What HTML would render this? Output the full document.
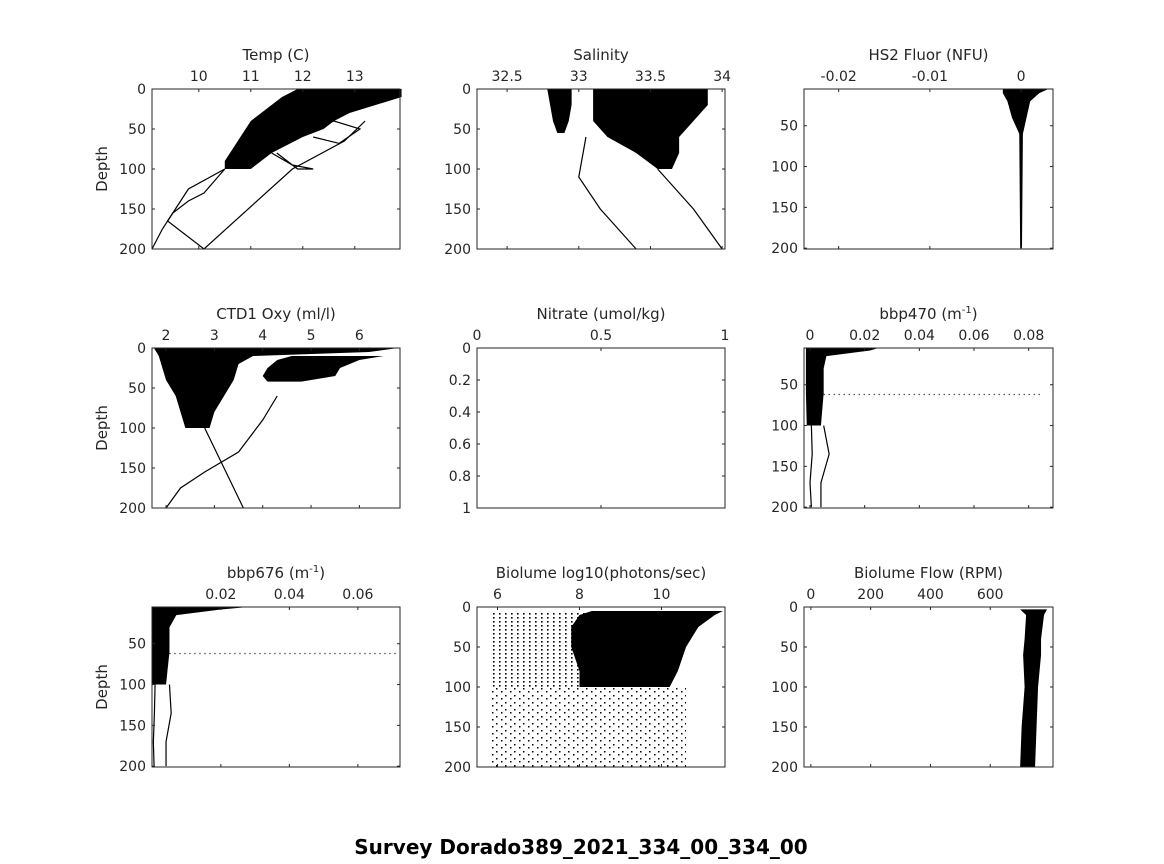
<!DOCTYPE html>
<html><head><meta charset="utf-8">
<style>
body{margin:0;background:#fff;}
svg{display:block;font-family:"DejaVu Sans","Liberation Sans",sans-serif;}
</style></head>
<body>
<svg id="fig" width="1164" height="864" viewBox="0 0 1164 864">
<defs>
<pattern id="sparse" width="9" height="7" patternUnits="userSpaceOnUse"><rect x="1" y="2" width="1.5" height="1.5" fill="#000"/><rect x="6" y="5" width="1.5" height="1.5" fill="#000"/></pattern>
<pattern id="mid" width="6" height="4" patternUnits="userSpaceOnUse"><rect x="1" y="1" width="1.6" height="1.6" fill="#000"/></pattern>
</defs>
<text x="581" y="854" text-anchor="middle" font-size="20" font-weight="bold">Survey Dorado389_2021_334_00_334_00</text>
</svg>
<script>
// ---- data arrays ----
const tempTicks=[10,11,12,13];
const tempEnvDepth=[0,10,20,30,40,50,60,70,80,90,100];
const tempEnvMin=[11.9,11.6,11.4,11.2,11.0,10.9,10.8,10.7,10.6,10.5,10.5];
const tempEnvMax=[13.9,13.9,13.4,12.9,12.6,12.4,12.0,11.7,11.4,11.2,11.0];
const tempLine1X=[10.5,10.3,10.1,9.8,9.5,9.3,9.1];const tempLine1D=[100,115,130,140,155,175,200];
const tempLine2X=[10.5,9.8,9.4,10.1,11.8,12.8,13.2];const tempLine2D=[100,125,165,200,100,65,40];
const tempLine3X=[11.5,11.9,12.2,11.8,11.4];const tempLine3D=[80,100,100,95,80];
const tempLine4X=[12.0,12.6,13.1,12.7,12.2];const tempLine4D=[50,40,50,68,60];

const salTicks=[32.5,33,33.5,34];
const salEnvDepth=[0,20,40,60,80,100];
const salEnvMin=[33.1,33.1,33.1,33.2,33.4,33.55];
const salEnvMax=[33.9,33.9,33.8,33.7,33.7,33.65];
const salStripDepth=[0,20,40,55];const salStripMin=[32.78,32.8,32.82,32.85];const salStripMax=[32.95,32.95,32.93,32.9];
const salLine1X=[33.55,33.7,33.8,33.9,34.0];const salLine1D=[100,130,150,175,200];
const salLine2X=[33.05,33.0,33.15,33.3,33.4];const salLine2D=[60,110,150,180,200];

const fluTicks=[-0.02,-0.01,0];
const fluEnvDepth=[5,10,20,40,60,200];
const fluEnvMin=[-0.002,-0.002,-0.0015,-0.001,-0.0002,-0.0001];
const fluEnvMax=[0.003,0.002,0.001,0.0006,0.0002,0.0001];

const oxyTicks=[2,3,4,5,6];
const oxyEnvDepth=[0,5,10,20,40,60,80,100];
const oxyEnvMin=[1.75,1.8,1.85,1.9,2.0,2.2,2.3,2.4];
const oxyEnvMax=[6.8,6.2,3.8,3.5,3.4,3.2,3.0,2.9];
const oxy2EnvDepth=[10,15,25,35,42];
const oxy2EnvMin=[4.6,4.3,4.1,4.0,4.1];
const oxy2EnvMax=[6.5,6.0,5.6,5.5,4.8];
const oxyLine1X=[4.3,4.0,3.5,2.8,2.3,2.0];const oxyLine1D=[60,90,130,155,175,200];
const oxyLine2X=[2.8,3.0,3.2,3.4,3.6];const oxyLine2D=[100,125,150,175,200];

const nitTicks=[0,0.5,1];const nitYTicks=[0,0.2,0.4,0.6,0.8,1];

const b470Ticks=[0,0.02,0.04,0.06,0.08];
const b470EnvDepth=[5,8,15,30,60,100];
const b470EnvMin=[-0.0015,-0.0015,-0.0015,-0.0015,-0.0015,-0.0012];
const b470EnvMax=[0.025,0.022,0.006,0.005,0.005,0.004];
const b470SpikeDepth=62;const b470SpikeMax=0.085;
const b470TailA=[0.0005,0.0008,0.0,0.0005];const b470TailB=[0.005,0.007,0.004,0.004];const b470TailD=[100,135,170,200];

const b676Ticks=[0.02,0.04,0.06];
const b676EnvDepth=[5,8,15,30,60,100];
const b676EnvMin=[0,0,0,0,0,0];
const b676EnvMax=[0.028,0.02,0.007,0.005,0.005,0.004];
const b676SpikeDepth=62;const b676SpikeMax=0.071;
const b676TailA=[0.0008,0.0006,0.0003,0.0005];const b676TailB=[0.005,0.0055,0.004,0.004];const b676TailD=[100,135,170,200];

const bioTicks=[6,8,10];
const bioEnvDepth=[5,10,25,50,80,100];
const bioEnvMin=[8.3,8.0,7.8,7.8,8.0,8.0];
const bioEnvMax=[11.5,11.3,10.9,10.6,10.4,10.2];

const flowTicks=[0,200,400,600];
const flowEnvDepth=[3,10,40,60,100,150,200];
const flowEnvMin=[700,720,715,710,715,705,700];
const flowEnvMax=[790,780,770,770,760,755,750];

const depthTicks=[0,50,100,150,200];const depthTicks2=[50,100,150,200];

const NS='http://www.w3.org/2000/svg';
const svg=document.getElementById('fig');
function mk(tag,attrs,parent){const e=document.createElementNS(NS,tag);for(const k in attrs)e.setAttribute(k,attrs[k]);(parent||svg).appendChild(e);return e;}

function panel(o){
  const g=mk('g',{});
  
  
  const X=v=>o.x0+(v-o.xmin)/(o.xmax-o.xmin)*(o.x1-o.x0);
  const Y=v=>o.y0+(v-o.ymin)/(o.ymax-o.ymin)*(o.y1-o.y0);
  o.draw&&o.draw(g,X,Y);
  const box=mk('rect',{x:o.x0,y:o.y0,width:o.x1-o.x0,height:o.y1-o.y0,fill:'none',stroke:'#262626','stroke-width':1},g);
  
  
  o.xt.forEach(v=>{const x=X(v);
    mk('line',{x1:x,x2:x,y1:o.y0,y2:o.y0+3,stroke:'#262626'},g);
    mk('line',{x1:x,x2:x,y1:o.y1,y2:o.y1-3,stroke:'#262626'},g);
    const t=mk('text',{x:x,y:o.y0-8,'text-anchor':'middle','font-size':14,fill:'#262626'},g);t.textContent=v;
    
    });
  o.yt.forEach(v=>{const y=Y(v);
    mk('line',{x1:o.x0,x2:o.x0+3,y1:y,y2:y,stroke:'#262626'},g);
    mk('line',{x1:o.x1,x2:o.x1-3,y1:y,y2:y,stroke:'#262626'},g);
    const t=mk('text',{x:o.x0-6,y:y+5,'text-anchor':'end','font-size':14,fill:'#262626'},g);t.textContent=v;
    
    });
  const tt=mk('text',{x:(o.x0+o.x1)/2,y:o.y0-29,'text-anchor':'middle','font-size':15,fill:'#262626'},g);
  tt.innerHTML=o.title;
  
  
  if(o.ylab){const yl=mk('text',{x:0,y:0,'text-anchor':'middle','font-size':15,fill:'#262626',transform:`translate(${o.x0-45},${(o.y0+o.y1)/2}) rotate(-90)`},g);yl.textContent='Depth';
    
    }
}
function env(g,X,Y,d,mn,mx,fill,name){
  let p='M'+d.map((dd,i)=>X(mn[i])+','+Y(dd)).join('L');
  for(let i=d.length-1;i>=0;i--)p+='L'+X(mx[i])+','+Y(d[i]);
  const e=mk('path',{d:p+'Z',fill:fill||'#000'},g);
  
  
}
function line(g,X,Y,xs,ds,name,dash){
  const e=mk('polyline',{points:xs.map((v,i)=>X(v)+','+Y(ds[i])).join(' '),fill:'none',stroke:'#000','stroke-width':1.2,'stroke-dasharray':dash||'none'},g);
  
  
}
const C1=[152,400],C2=[477,725],C3=[804,1053],R1=[89,249],R2=[348,508],R3=[607,767];

panel({name:'temp-panel',x0:C1[0],x1:C1[1],y0:R1[0],y1:R1[1],xmin:9.1,xmax:13.87,ymin:0,ymax:200,xt:tempTicks,yt:depthTicks,title:'Temp (C)',ylab:1,
 draw:(g,X,Y)=>{env(g,X,Y,tempEnvDepth,tempEnvMin,tempEnvMax);line(g,X,Y,tempLine1X,tempLine1D);line(g,X,Y,tempLine2X,tempLine2D);line(g,X,Y,tempLine3X,tempLine3D);line(g,X,Y,tempLine4X,tempLine4D);}});
panel({name:'salinity-panel',x0:C2[0],x1:C2[1],y0:R1[0],y1:R1[1],xmin:32.29,xmax:34.02,ymin:0,ymax:200,xt:salTicks,yt:depthTicks,title:'Salinity',
 draw:(g,X,Y)=>{env(g,X,Y,salEnvDepth,salEnvMin,salEnvMax);env(g,X,Y,salStripDepth,salStripMin,salStripMax);line(g,X,Y,salLine1X,salLine1D);line(g,X,Y,salLine2X,salLine2D);}});
panel({name:'fluor-panel',x0:C3[0],x1:C3[1],y0:R1[0],y1:R1[1],xmin:-0.0238,xmax:0.0035,ymin:5,ymax:201,xt:fluTicks,yt:depthTicks2,title:'HS2 Fluor (NFU)',
 draw:(g,X,Y)=>{env(g,X,Y,fluEnvDepth,fluEnvMin,fluEnvMax);}});
panel({name:'oxygen-panel',x0:C1[0],x1:C1[1],y0:R2[0],y1:R2[1],xmin:1.71,xmax:6.84,ymin:0,ymax:200,xt:oxyTicks,yt:depthTicks,title:'CTD1 Oxy (ml/l)',ylab:1,
 draw:(g,X,Y)=>{env(g,X,Y,oxyEnvDepth,oxyEnvMin,oxyEnvMax);env(g,X,Y,oxy2EnvDepth,oxy2EnvMin,oxy2EnvMax);line(g,X,Y,oxyLine1X,oxyLine1D);line(g,X,Y,oxyLine2X,oxyLine2D);}});
panel({name:'nitrate-panel',x0:C2[0],x1:C2[1],y0:R2[0],y1:R2[1],xmin:0,xmax:1,ymin:0,ymax:1,xt:nitTicks,yt:nitYTicks,title:'Nitrate (umol/kg)'});
panel({name:'bbp470-panel',x0:C3[0],x1:C3[1],y0:R2[0],y1:R2[1],xmin:-0.0022,xmax:0.0889,ymin:5,ymax:201,xt:b470Ticks,yt:depthTicks2,title:'bbp470 (m<tspan dy="-6" font-size="10">-1</tspan><tspan dy="6">)</tspan>',
 draw:(g,X,Y)=>{env(g,X,Y,b470EnvDepth,b470EnvMin,b470EnvMax);line(g,X,Y,[0.005,b470SpikeMax],[b470SpikeDepth,b470SpikeDepth],'spike-dots','1 4');line(g,X,Y,b470TailA,b470TailD,'tail-line');line(g,X,Y,b470TailB,b470TailD,'tail-line');}});
panel({name:'bbp676-panel',x0:C1[0],x1:C1[1],y0:R3[0],y1:R3[1],xmin:-0.0001,xmax:0.0723,ymin:5,ymax:201,xt:b676Ticks,yt:depthTicks2,title:'bbp676 (m<tspan dy="-6" font-size="10">-1</tspan><tspan dy="6">)</tspan>',ylab:1,
 draw:(g,X,Y)=>{env(g,X,Y,b676EnvDepth,b676EnvMin,b676EnvMax);line(g,X,Y,[0.005,b676SpikeMax],[b676SpikeDepth,b676SpikeDepth],'spike-dots','1 4');line(g,X,Y,b676TailA,b676TailD,'tail-line');line(g,X,Y,b676TailB,b676TailD,'tail-line');}});
panel({name:'biolume-panel',x0:C2[0],x1:C2[1],y0:R3[0],y1:R3[1],xmin:5.5,xmax:11.55,ymin:0,ymax:200,xt:bioTicks,yt:depthTicks,title:'Biolume log10(photons/sec)',
 draw:(g,X,Y)=>{env(g,X,Y,[100,200],[5.8,5.8],[10.6,10.6],'url(#sparse)','sparse-scatter');env(g,X,Y,[5,100],[5.8,5.8],[8.2,8.2],'url(#mid)','mid-scatter');env(g,X,Y,bioEnvDepth,bioEnvMin,bioEnvMax);}});
panel({name:'flow-panel',x0:C3[0],x1:C3[1],y0:R3[0],y1:R3[1],xmin:-23,xmax:810,ymin:0,ymax:200,xt:flowTicks,yt:depthTicks,title:'Biolume Flow (RPM)',
 draw:(g,X,Y)=>{env(g,X,Y,flowEnvDepth,flowEnvMin,flowEnvMax);}});
</script>
</body></html>
